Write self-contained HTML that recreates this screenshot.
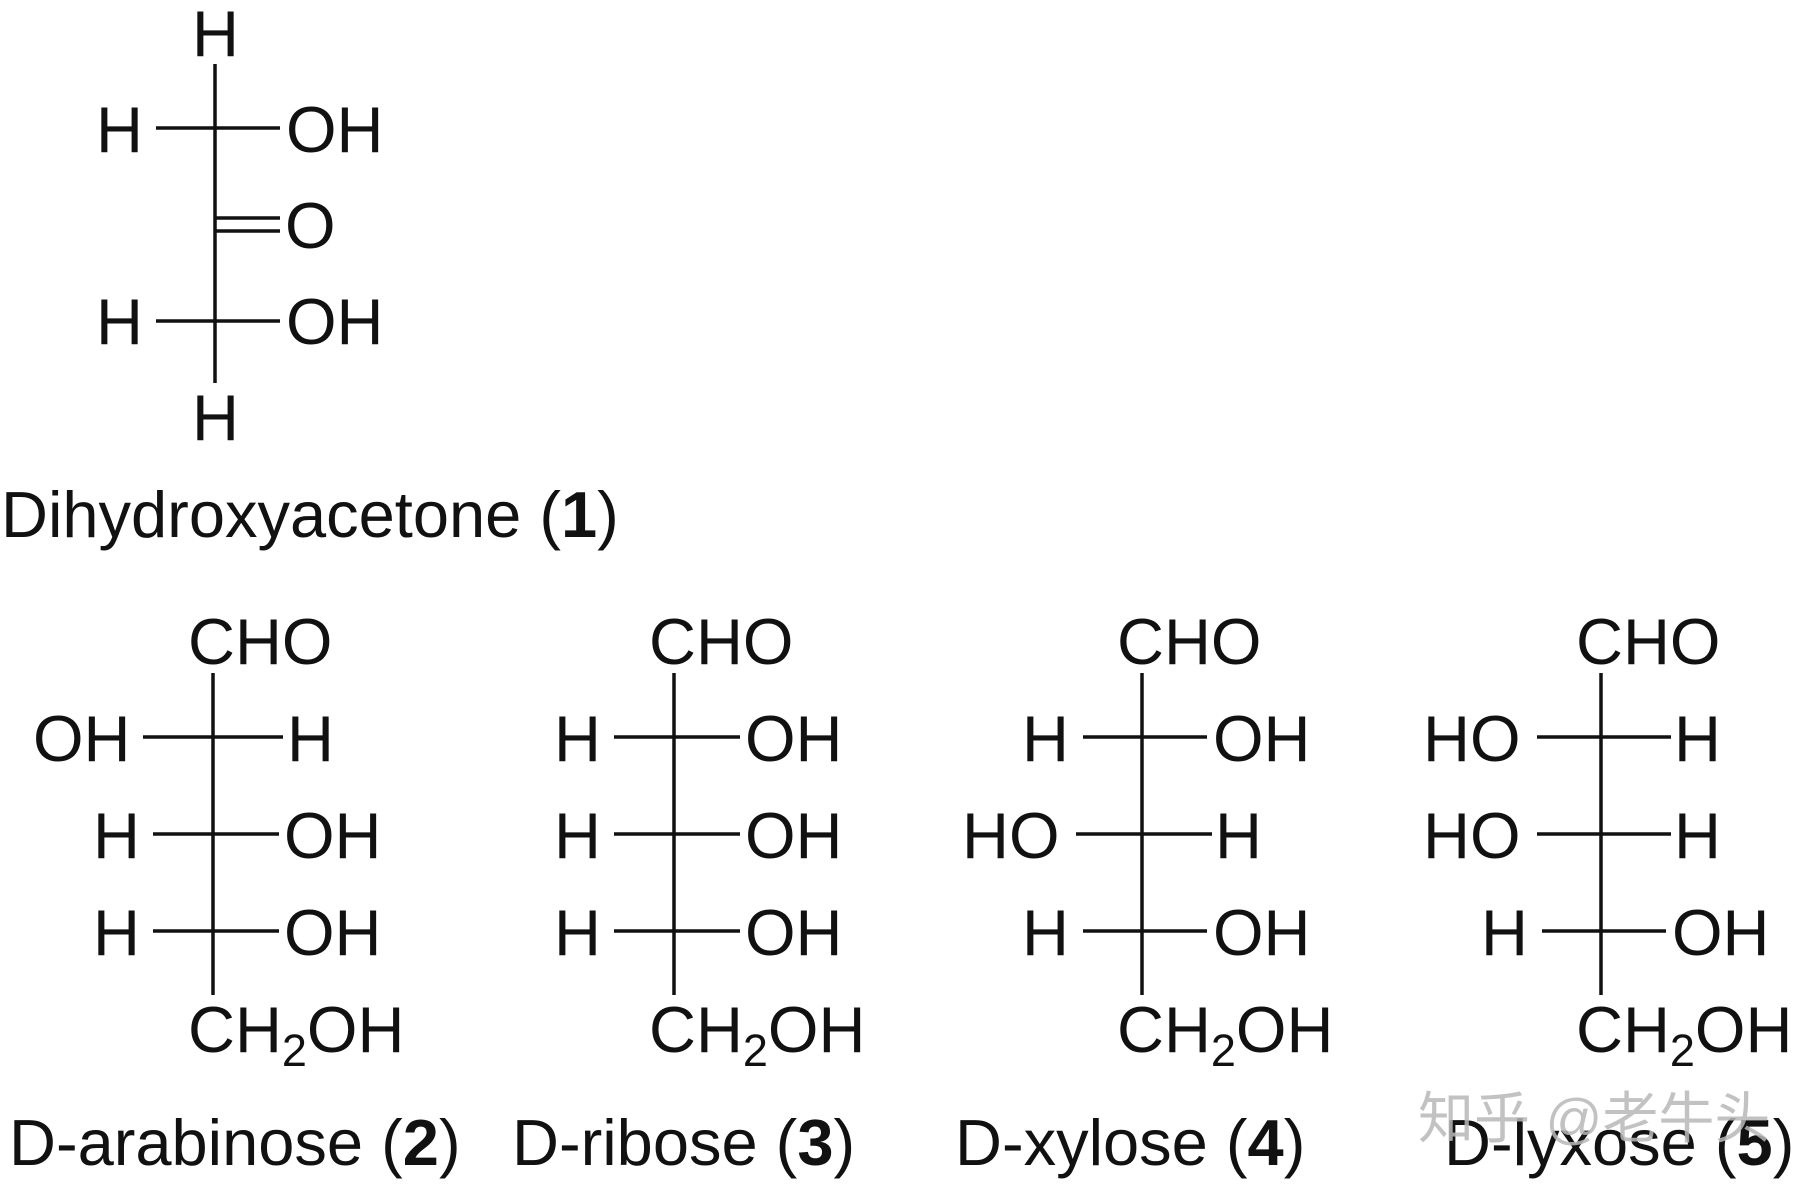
<!DOCTYPE html>
<html><head><meta charset="utf-8"><style>
html,body{margin:0;padding:0;background:#fff;}
svg{display:block;}
text{font-family:"Liberation Sans",Arial,sans-serif;font-size:65px;fill:#111;}
.wm{font-family:"Liberation Sans","Noto Sans CJK SC",sans-serif;font-size:56px;fill:#b8b8b8;}
</style></head><body>
<svg width="1800" height="1189" viewBox="0 0 1800 1189" xmlns="http://www.w3.org/2000/svg">
<g stroke="#111" stroke-width="3.5" fill="none">
<!-- structure 1 -->
<line x1="215" y1="64" x2="215" y2="383"/>
<line x1="156" y1="128" x2="280" y2="128"/>
<line x1="215" y1="218" x2="280" y2="218"/>
<line x1="215" y1="231" x2="280" y2="231"/>
<line x1="156" y1="321" x2="280" y2="321"/>
</g>
<text x="192" y="56">H</text>
<text x="96" y="152">H</text><text x="286" y="152">OH</text>
<text x="285" y="248">O</text>
<text x="96" y="344">H</text><text x="286" y="344">OH</text>
<text x="192" y="440">H</text>
<text x="1" y="537">Dihydroxyacetone (<tspan font-weight="bold">1</tspan>)</text>

<!-- sugar template via groups -->
<g id="s2" transform="translate(213,0)">
<g stroke="#111" stroke-width="3.5"><line x1="0" y1="673" x2="0" y2="995"/>
<line x1="-70" y1="737" x2="70" y2="737"/>
<line x1="-60" y1="834" x2="66" y2="834"/>
<line x1="-60" y1="931" x2="66" y2="931"/></g>
<text x="-25" y="664">CHO</text>
<text x="-180" y="761">OH</text><text x="74" y="761">H</text>
<text x="-120" y="858">H</text><text x="71" y="858">OH</text>
<text x="-120" y="955">H</text><text x="71" y="955">OH</text>
<text x="-25" y="1052">CH<tspan font-size="45" dy="14">2</tspan><tspan dy="-14">OH</tspan></text>
</g>
<g transform="translate(674,0)">
<g stroke="#111" stroke-width="3.5"><line x1="0" y1="673" x2="0" y2="995"/>
<line x1="-60" y1="737" x2="66" y2="737"/>
<line x1="-60" y1="834" x2="66" y2="834"/>
<line x1="-60" y1="931" x2="66" y2="931"/></g>
<text x="-25" y="664">CHO</text>
<text x="-120" y="761">H</text><text x="71" y="761">OH</text>
<text x="-120" y="858">H</text><text x="71" y="858">OH</text>
<text x="-120" y="955">H</text><text x="71" y="955">OH</text>
<text x="-25" y="1052">CH<tspan font-size="45" dy="14">2</tspan><tspan dy="-14">OH</tspan></text>
</g>
<g transform="translate(1142,0)">
<g stroke="#111" stroke-width="3.5"><line x1="0" y1="673" x2="0" y2="995"/>
<line x1="-59" y1="737" x2="65" y2="737"/>
<line x1="-66" y1="834" x2="70" y2="834"/>
<line x1="-59" y1="931" x2="65" y2="931"/></g>
<text x="-25" y="664">CHO</text>
<text x="-120" y="761">H</text><text x="71" y="761">OH</text>
<text x="-180" y="858">HO</text><text x="73" y="858">H</text>
<text x="-120" y="955">H</text><text x="71" y="955">OH</text>
<text x="-25" y="1052">CH<tspan font-size="45" dy="14">2</tspan><tspan dy="-14">OH</tspan></text>
</g>
<g transform="translate(1601,0)">
<g stroke="#111" stroke-width="3.5"><line x1="0" y1="673" x2="0" y2="995"/>
<line x1="-64" y1="737" x2="70" y2="737"/>
<line x1="-64" y1="834" x2="70" y2="834"/>
<line x1="-59" y1="931" x2="65" y2="931"/></g>
<text x="-25" y="664">CHO</text>
<text x="-178" y="761">HO</text><text x="73" y="761">H</text>
<text x="-178" y="858">HO</text><text x="73" y="858">H</text>
<text x="-120" y="955">H</text><text x="71" y="955">OH</text>
<text x="-25" y="1052">CH<tspan font-size="45" dy="14">2</tspan><tspan dy="-14">OH</tspan></text>
</g>

<text x="9" y="1165">D-arabinose (<tspan font-weight="bold">2</tspan>)</text>
<text x="512" y="1165">D-ribose (<tspan font-weight="bold">3</tspan>)</text>
<text x="955" y="1165">D-xylose (<tspan font-weight="bold">4</tspan>)</text>
<text x="1444" y="1165">D-lyxose (<tspan font-weight="bold">5</tspan>)</text>

<text class="wm" x="1418" y="1138" opacity="0.85">知乎 @老牛头</text>
</svg>
</body></html>
